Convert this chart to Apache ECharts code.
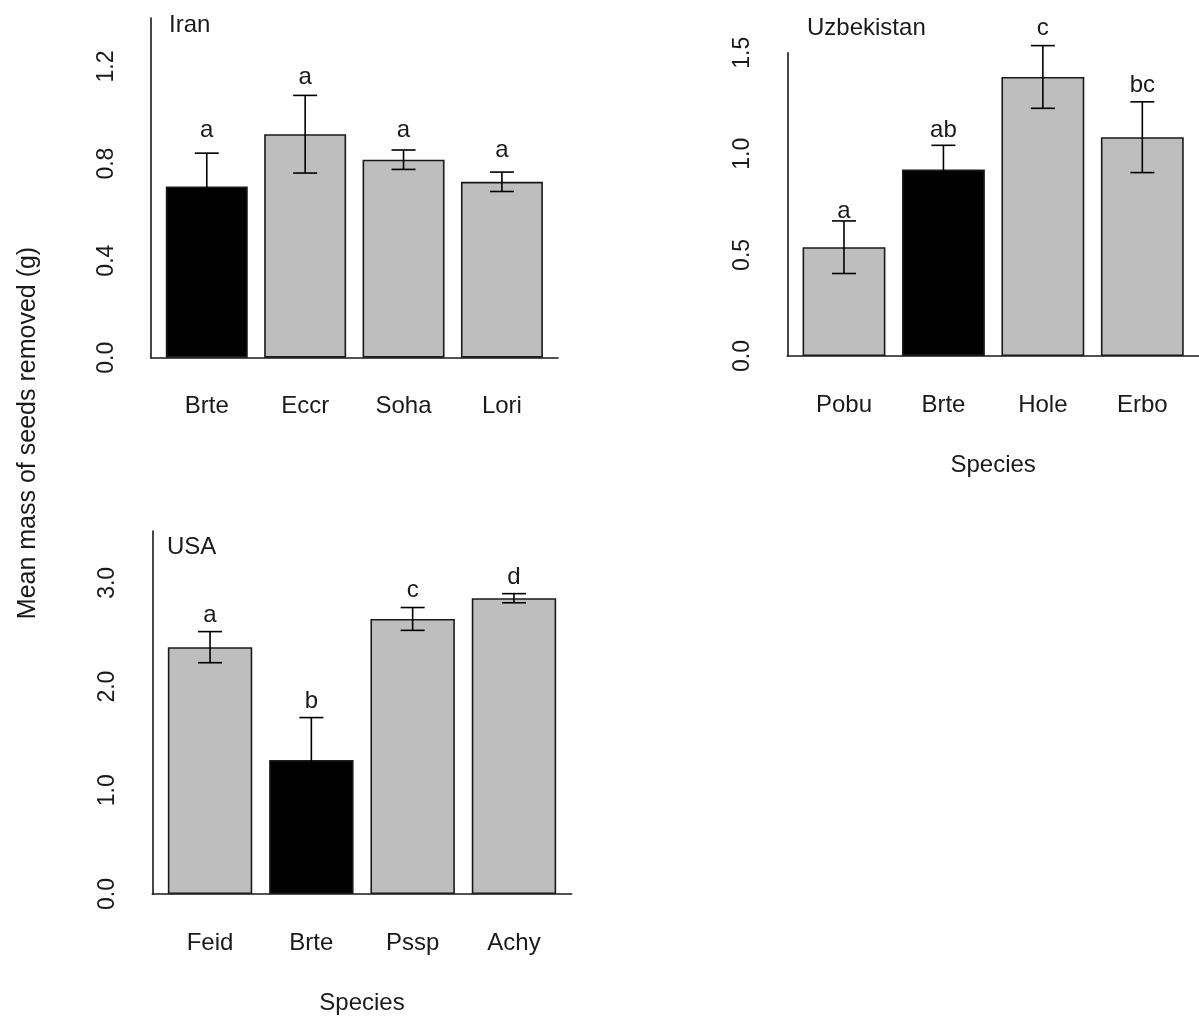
<!DOCTYPE html>
<html>
<head>
<meta charset="utf-8">
<script src="https://cdn.jsdelivr.net/npm/echarts@6/dist/echarts.min.js"></script>
<style>html,body{margin:0;padding:0;background:#fff}#c{width:1199px;height:1021px}</style>
</head>
<body>
<div id="c"></div>
<script>
// ---- data ----
const iranCats = ['Brte', 'Eccr', 'Soha', 'Lori'];
const iranMeans = [0.706, 0.921, 0.816, 0.725];
const iranSE = [0.137, 0.160, 0.040, 0.040];
const iranLetters = ['a', 'a', 'a', 'a'];
const iranLetterY = [0.907, 1.126, 0.907, 0.825];
const iranTicks = [0, 0.4, 0.8, 1.2];

const uzbCats = ['Pobu', 'Brte', 'Hole', 'Erbo'];
const uzbMeans = [0.538, 0.922, 1.380, 1.082];
const uzbSE = [0.130, 0.120, 0.155, 0.175];
const uzbLetters = ['a', 'ab', 'c', 'bc'];
const uzbLetterY = [0.683, 1.082, 1.587, 1.305];
const uzbTicks = [0, 0.5, 1.0, 1.5];

const usaCats = ['Feid', 'Brte', 'Pssp', 'Achy'];
const usaMeans = [2.380, 1.291, 2.652, 2.852];
const usaSE = [0.150, 0.410, 0.110, 0.044];
const usaLetters = ['a', 'b', 'c', 'd'];
const usaLetterY = [2.623, 1.789, 2.858, 2.984];
const usaTicks = [0, 1.0, 2.0, 3.0];

const panelNames = ['Iran', 'Uzbekistan', 'USA'];
const yMax = [1.4, 1.5, 3.5];
const invasive = 'Brte';

// ---- layout / style ----
const FONT = 'Liberation Sans, Arial, sans-serif';
const TXT = '#1a1a1a';
const LINE = '#1a1a1a';
// R barplot geometry: width 1, space 0.2, xlim extended 4%
const SPACE = 0.2;
const xPos = i => SPACE + 0.5 + i * (1 + SPACE);
const X_MIN = 0.016, X_MAX = 4.984;

const panels = [
  {cats: iranCats, means: iranMeans, se: iranSE, letters: iranLetters, ly: iranLetterY, ticks: iranTicks,
   grid: {left: 150.7, top: 18, width: 407.3, height: 339.7}, title: {left: 169, top: 13}, species: false},
  {cats: uzbCats, means: uzbMeans, se: uzbSE, letters: uzbLetters, ly: uzbLetterY, ticks: uzbTicks,
   grid: {left: 787.3, top: 52.7, width: 417.3, height: 303.3}, title: {left: 807, top: 16}, species: true},
  {cats: usaCats, means: usaMeans, se: usaSE, letters: usaLetters, ly: usaLetterY, ticks: usaTicks,
   grid: {left: 152.3, top: 531, width: 419.4, height: 363}, title: {left: 167, top: 535}, species: true}
];

const grid = [], xAxis = [], yAxis = [], series = [], title = [];
panels.forEach((p, k) => {
  grid.push(Object.assign({containLabel: false}, p.grid));
  title.push({text: panelNames[k], left: p.title.left, top: p.title.top, padding: 0,
    textStyle: {fontFamily: FONT, fontSize: 24, fontWeight: 'normal', color: TXT}});
  const xVals = p.cats.map((c, i) => xPos(i));
  xAxis.push({
    type: 'value', gridIndex: k, min: X_MIN, max: X_MAX,
    axisLine: {show: true, lineStyle: {color: LINE, width: 1.6}},
    axisTick: {show: false}, splitLine: {show: false},
    axisLabel: {customValues: xVals, margin: 37, fontFamily: FONT, fontSize: 24, color: TXT,
      formatter: v => { const i = xVals.findIndex(x => Math.abs(x - v) < 1e-6); return i >= 0 ? p.cats[i] : ''; }},
    name: p.species ? 'Species' : '', nameLocation: 'middle', nameGap: 97,
    nameTextStyle: {fontFamily: FONT, fontSize: 24, color: TXT}
  });
  yAxis.push({
    type: 'value', gridIndex: k, min: 0, max: yMax[k],
    axisLine: {show: true, lineStyle: {color: LINE, width: 1.6}},
    axisTick: {show: false}, splitLine: {show: false},
    axisLabel: {customValues: p.ticks, rotate: 90, margin: 33, fontFamily: FONT, fontSize: 23, color: TXT,
      formatter: v => v.toFixed(1)}
  });
  series.push({
    type: 'bar', xAxisIndex: k, yAxisIndex: k, barWidth: (100 / (1 + SPACE)) + '%',
    data: p.cats.map((c, i) => ({value: [xPos(i), p.means[i]],
      itemStyle: {color: c === invasive ? '#000000' : '#bebebe', borderColor: LINE, borderWidth: 1.6}})),
    silent: true
  });
  series.push({
    type: 'custom', xAxisIndex: k, yAxisIndex: k, z: 5, silent: true,
    data: p.cats.map((c, i) => [xPos(i), p.means[i], p.se[i], p.ly[i]]),
    renderItem: (params, api) => {
      const x = api.value(0), m = api.value(1), s = api.value(2), ly = api.value(3);
      const t = api.coord([x, m + s]), b = api.coord([x, m - s]), l = api.coord([x, ly]);
      const st = {stroke: '#000', lineWidth: 1.6};
      const cap = 12;
      return {type: 'group', children: [
        {type: 'line', shape: {x1: t[0], y1: t[1], x2: b[0], y2: b[1]}, style: st},
        {type: 'line', shape: {x1: t[0] - cap, y1: t[1], x2: t[0] + cap, y2: t[1]}, style: st},
        {type: 'line', shape: {x1: b[0] - cap, y1: b[1], x2: b[0] + cap, y2: b[1]}, style: st},
        {type: 'text', x: l[0], y: l[1] + 5, style: {text: p.letters[params.dataIndex], fill: TXT,
          font: '24px ' + FONT, textAlign: 'center', textVerticalAlign: 'bottom'}}
      ]};
    }
  });
});

const chart = echarts.init(document.getElementById('c'), null, {renderer: 'canvas'});
chart.setOption({
  animation: false,
  backgroundColor: '#ffffff',
  title, grid, xAxis, yAxis, series,
  graphic: [{type: 'text', x: 28, y: 433, rotation: Math.PI / 2,
    style: {text: 'Mean mass of seeds removed (g)', font: '25px ' + FONT, fill: TXT,
      textAlign: 'center', textVerticalAlign: 'middle'}}]
});
</script>
</body>
</html>
